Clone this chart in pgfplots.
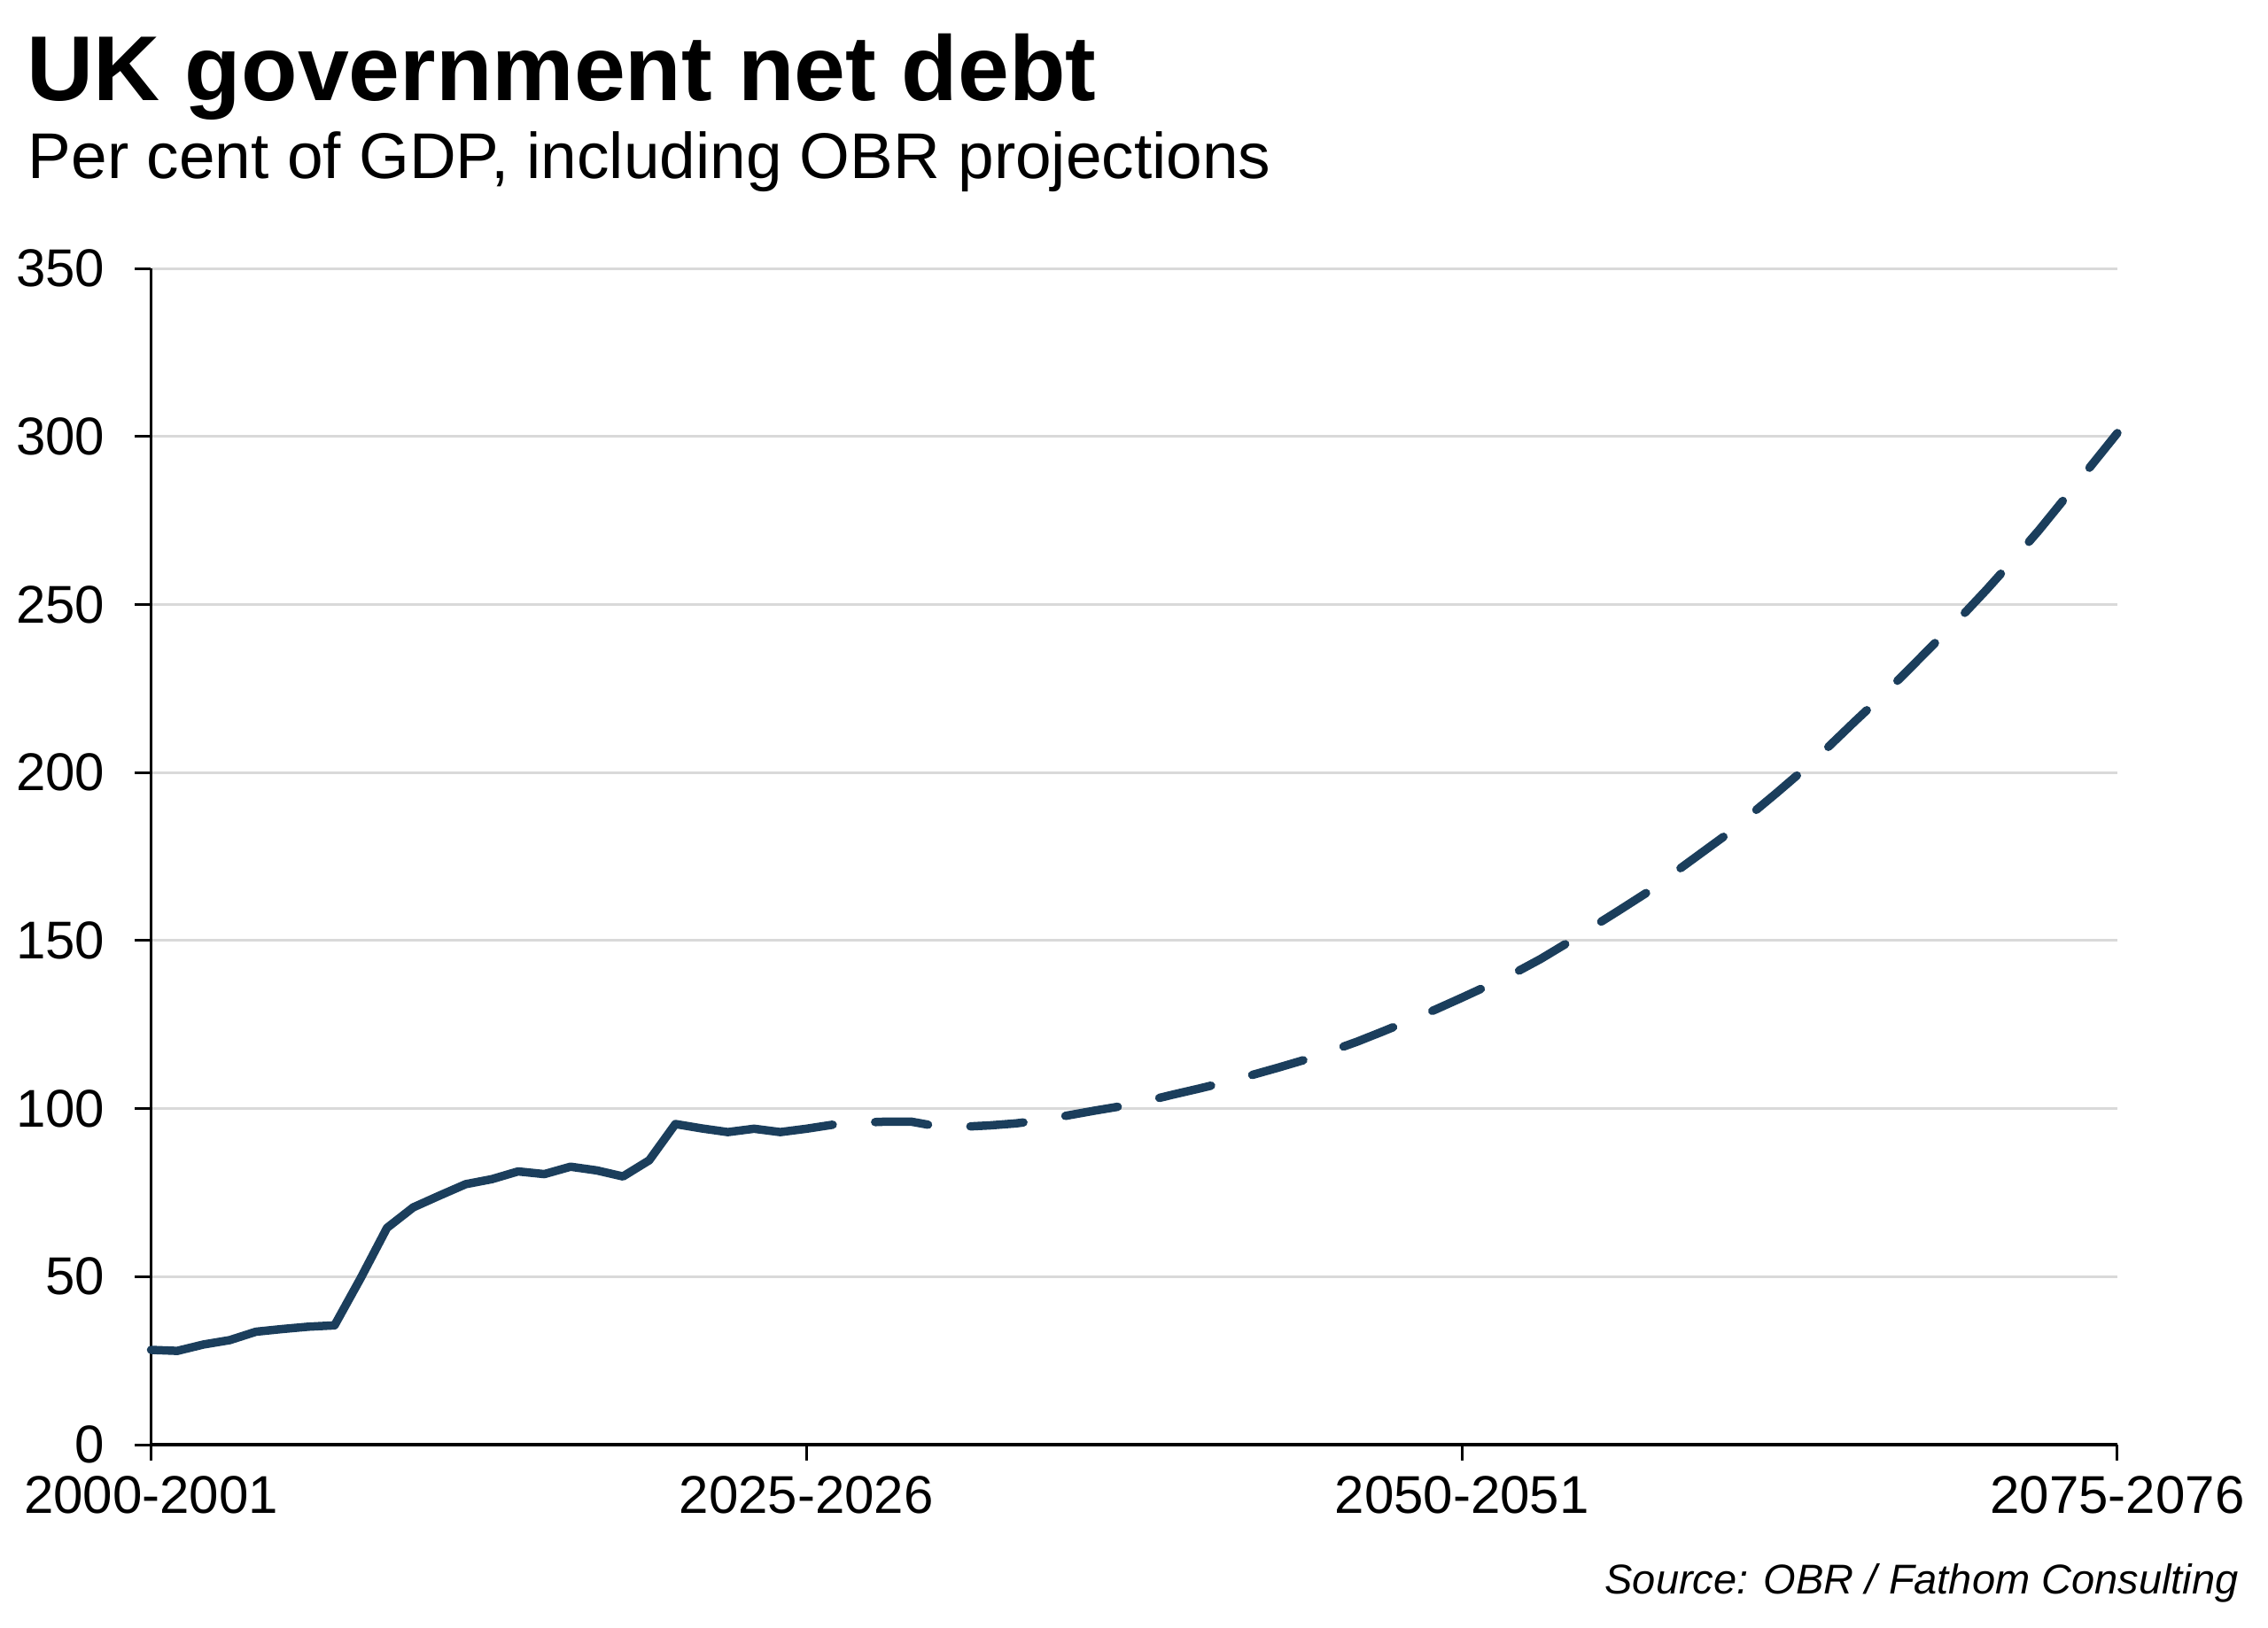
\documentclass[border=0pt]{standalone}
\usepackage{fontspec}
\setmainfont{Liberation Sans}
\usepackage{pgfplots}
\pgfplotsset{compat=1.18}
\definecolor{navy}{RGB}{27,62,92}
\definecolor{gridgrey}{RGB}{217,217,217}
\begin{document}
\begin{tikzpicture}
\useasboundingbox (0,0) rectangle (512pt,367.4pt);
\node[anchor=base west, inner sep=0pt] at (5.8pt,344.6pt) {\fontsize{20.8}{24}\selectfont\bfseries UK government net debt};
\node[anchor=base west, inner sep=0pt] at (6.2pt,327.1pt) {\fontsize{14.6}{17}\selectfont Per cent of GDP, including OBR projections};
\begin{axis}[
  at={(34.1pt,41.2pt)}, anchor=south west,
  scale only axis, width=443.9pt, height=265.6pt,
  xmin=0, xmax=75, ymin=0, ymax=350,
  axis lines=left, axis line style={-},
  x axis line style={line width=0.7pt},
  y axis line style={line width=0.6pt},
  xtick={0,25,50,75},
  xticklabels={2000-2001,2025-2026,2050-2051,2075-2076},
  ytick={0,50,...,350},
  ymajorgrids, grid style={gridgrey, line width=0.6pt},
  tick align=outside, major tick length=3.6pt,
  tick style={black, line width=0.6pt},
  ticklabel style={font=\fontsize{12}{14}\selectfont},
  yticklabel style={xshift=-3.3pt},
  /pgf/number format/assume math mode=true,
  clip=false,
]
\addplot[navy, line width=1.9pt, line cap=round, line join=round] coordinates {
(0,28.2) (1,27.9) (2,29.8) (3,31.1) (4,33.6) (5,34.4) (6,35.1) (7,35.5)
(8,49.6) (9,64.5) (10,70.6) (11,74.1) (12,77.5) (13,79.0) (14,81.3) (15,80.5)
(16,82.7) (17,81.6) (18,79.8) (19,84.6) (20,95.4) (21,94.1) (22,93.0) (23,94.0)
(24,93.0) (25,94.0) (26,95.2)
};
\addplot[navy, line width=1.9pt, line cap=round, line join=round, dash pattern=on 12pt off 9.6pt, dash phase=12pt] coordinates {
(26,95.2) (27,95.8) (28,96.1) (29,96.1) (30,94.7) (31,94.6) (32,95.0) (33,95.6)
(34,96.6) (35,98.0) (36,99.4) (37,100.7) (38,102.3) (39,104.2) (40,106.0)
(41,107.9) (42,110.0) (43,112.2) (44,114.5) (45,117.1) (46,119.9) (47,123.0)
(48,126.2) (49,129.5) (50,133.0) (51,136.6) (52,140.3) (53,144.5) (54,149.2)
(55,154.1) (56,159.0) (57,164.0) (58,169.6) (59,175.3) (60,181.0) (61,187.4)
(62,193.9) (63,200.6) (64,207.8) (65,215.3) (66,222.6) (67,230.3) (68,238.2)
(69,246.0) (70,254.3) (71,263.0) (72,272.0) (73,281.6) (74,291.3) (75,301.0)
};
\end{axis}
\node[anchor=base east, inner sep=0pt] at (505.5pt,7.6pt) {\fontsize{9.4}{11}\selectfont\itshape Source: OBR / Fathom Consulting};
\end{tikzpicture}
\end{document}
